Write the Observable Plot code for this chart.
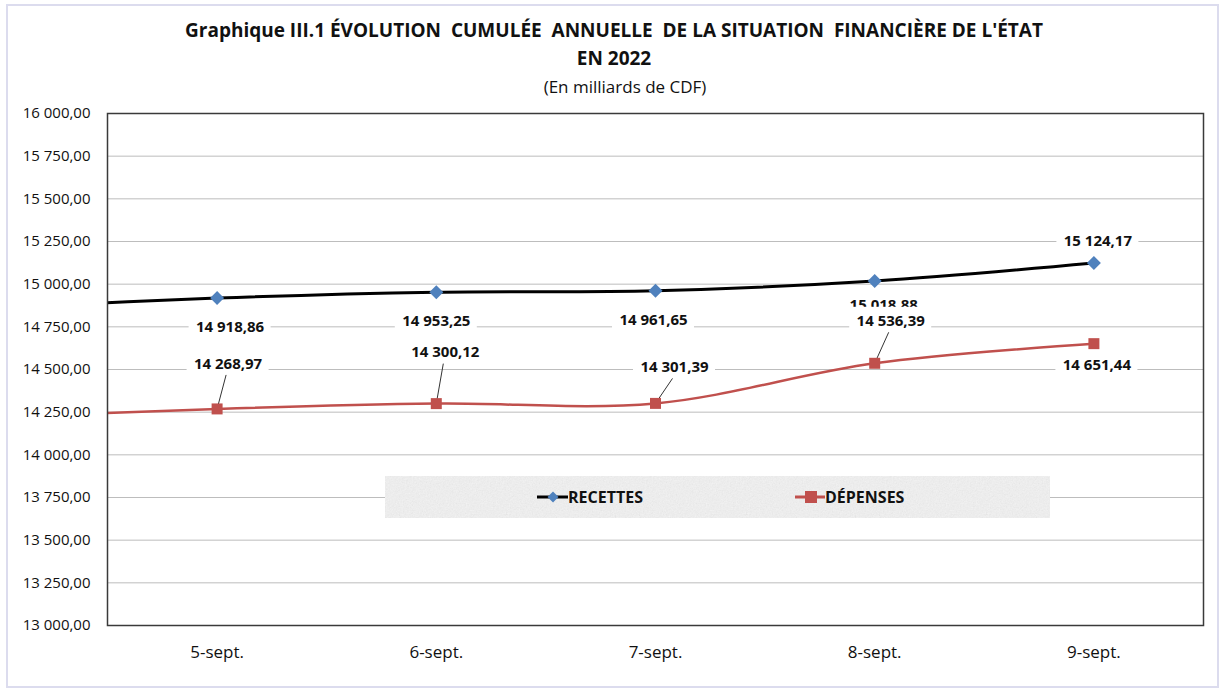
<!DOCTYPE html>
<html><head><meta charset="utf-8">
<script src="https://cdn.jsdelivr.net/npm/d3@7"></script>
<script src="https://cdn.jsdelivr.net/npm/@observablehq/plot@0.6"></script>
<style>
body{margin:0;background:#fff;font-family:"Open Sans",sans-serif;}
#page{position:relative;width:1224px;height:691px;overflow:hidden;}
#border{position:absolute;left:6px;top:4px;width:1213px;height:684px;border:2px solid #dcdcee;box-sizing:border-box;}
.t{position:absolute;text-align:center;white-space:pre;color:#111;line-height:1.362;}
#t1{left:0;width:1228px;top:17.7px;font-weight:700;font-size:19px;}
#t2{left:0;width:1228px;top:45.5px;font-weight:700;font-size:19px;}
#t3{left:0;width:1250px;top:75px;font-weight:400;font-size:17px;}
#chart{position:absolute;left:0;top:100px;}
#legend{position:absolute;left:385px;top:476px;width:665px;height:42px;background-color:#f6f6f6;
background-image:url("data:image/svg+xml;utf8,<svg xmlns='http://www.w3.org/2000/svg' width='240' height='240'><filter id='n'><feTurbulence type='fractalNoise' baseFrequency='0.7' numOctaves='3'/><feColorMatrix type='matrix' values='0.33 0.33 0.33 0 0  0.33 0.33 0.33 0 0  0.33 0.33 0.33 0 0  0 0 0 0 1'/></filter><rect width='100%' height='100%' filter='url(%23n)' opacity='0.16'/></svg>");}
.li{position:absolute;top:0;height:42px;display:flex;align-items:center;font-weight:700;font-size:16px;color:#111;}
</style></head>
<body>
<div id="page">
  <div id="border"></div>
  <div class="t" id="t1">Graphique III.1 ÉVOLUTION  CUMULÉE  ANNUELLE  DE LA SITUATION  FINANCIÈRE DE L'ÉTAT</div>
  <div class="t" id="t2">EN 2022</div>
  <div class="t" id="t3">(En milliards de CDF)</div>
  <div id="chart"></div>
  <div id="legend">
    <div class="li" style="left:152px"><svg width="31" height="14"><line x1="0" y1="7" x2="31" y2="7" stroke="#000" stroke-width="3"/><path d="M16,1.5 L21.5,7 L16,12.5 L10.5,7 Z" fill="#4f81bd"/></svg><span>RECETTES</span></div>
    <div class="li" style="left:410px"><svg width="30" height="14"><line x1="0" y1="7" x2="30" y2="7" stroke="#c0504d" stroke-width="3"/><rect x="10" y="1" width="12" height="12" fill="#c0504d"/></svg><span>DÉPENSES</span></div>
  </div>
</div>
<script>
// ---- data ----
const dates = ["5-sept.", "6-sept.", "7-sept.", "8-sept.", "9-sept."];
const recettes = [14918.86, 14953.25, 14961.65, 15018.88, 15124.17];
const depenses = [14268.97, 14300.12, 14301.39, 14536.39, 14651.44];
// previous day (4-sept.), off the left of the frame: estimated from where the curves enter the frame
const recettesPrior = 14861;
const depensesPrior = 14219;
const yTicks = [13000, 13250, 13500, 13750, 14000, 14250, 14500, 14750, 15000, 15250, 15500, 15750, 16000];

// ---- layout ----
const W = 1224, H = 591, mT = 13, mB = 66, mL = 107, mR = 21;
// label offsets in pixels from their point [dx, dy]
const recOffsets = [[13, 29], [0, 29], [-2, 29], [9, 24], [4, -22]];
const depOffsets = [[11, -45], [9, -51], [19, -36], [16, -42], [3, 22]];
const depLeader = [true, true, true, true, false];

const loc = d3.formatLocale({decimal: ",", thousands: " ", grouping: [3], currency: ["", ""]});
const fmt = loc.format(",.2f");

const xS = Plot.scale({x: {type: "linear", domain: [-0.5, 4.5], range: [mL, W - mR]}});
const yS = Plot.scale({y: {type: "linear", domain: [13000, 16000], range: [H - mB, mT]}});

const recSeries = [recettesPrior, ...recettes].map((v, i) => ({i: i - 1, v}));
const depSeries = [depensesPrior, ...depenses].map((v, i) => ({i: i - 1, v}));

function labels(values, offsets) {
  return values.map((v, i) => {
    const px = xS.apply(i) + offsets[i][0], py = yS.apply(v) + offsets[i][1];
    return {
      i, v, text: fmt(v),
      lx: xS.invert(px), ly: yS.invert(py),
      bx1: xS.invert(px - 41), bx2: xS.invert(px + 41),
      by1: yS.invert(py - 14), by2: yS.invert(py + 14),
      ex: xS.invert(px - 2), ey: yS.invert(py + 11)
    };
  });
}
const recLab = labels(recettes, recOffsets);
const depLab = labels(depenses, depOffsets);

const chart = Plot.plot({
  width: W, height: H,
  marginTop: mT, marginBottom: mB, marginLeft: mL, marginRight: mR,
  style: {fontFamily: "Open Sans", background: "transparent", color: "#111"},
  x: {type: "linear", domain: [-0.5, 4.5], axis: null},
  y: {type: "linear", domain: [13000, 16000], axis: null},
  marks: [
    Plot.ruleY(yTicks, {stroke: "#bdbdbd", strokeWidth: 1}),
    Plot.text(yTicks, {x: () => -0.5, y: d => d, text: d => fmt(d), textAnchor: "end", dx: -17, fontSize: 15, fill: "#111"}),
    Plot.text(dates, {x: (d, i) => i, y: () => 13000, text: d => d, dy: 27, fontSize: 17, fill: "#111"}),
    Plot.line(recSeries, {x: "i", y: "v", stroke: "#000", strokeWidth: 3, curve: "catmull-rom", clip: true}),
    Plot.line(depSeries, {x: "i", y: "v", stroke: "#c0504d", strokeWidth: 2.5, curve: "catmull-rom", clip: true}),
    Plot.rect(recLab, {x1: "bx1", x2: "bx2", y1: "by1", y2: "by2", fill: "#fff"}),
    Plot.text(recLab, {x: "lx", y: "ly", text: "text", fontSize: 15, fontWeight: "bold", fill: "#111"}),
    Plot.rect(depLab, {x1: "bx1", x2: "bx2", y1: "by1", y2: "by2", fill: "#fff"}),
    Plot.text(depLab, {x: "lx", y: "ly", text: "text", fontSize: 15, fontWeight: "bold", fill: "#111"}),
    Plot.link(depLab.filter((d, k) => depLeader[k]), {x1: "i", y1: "v", x2: "ex", y2: "ey", stroke: "#333", strokeWidth: 1}),
    Plot.dot(recLab, {x: "i", y: "v", symbol: "diamond2", r: 6.3, fill: "#4f81bd"}),
    Plot.dot(depLab, {x: "i", y: "v", symbol: "square", r: 6.2, fill: "#c0504d"}),
    Plot.frame({stroke: "#3a3a3a", strokeWidth: 1.5})
  ]
});
document.getElementById("chart").appendChild(chart);
</script>
</body></html>
